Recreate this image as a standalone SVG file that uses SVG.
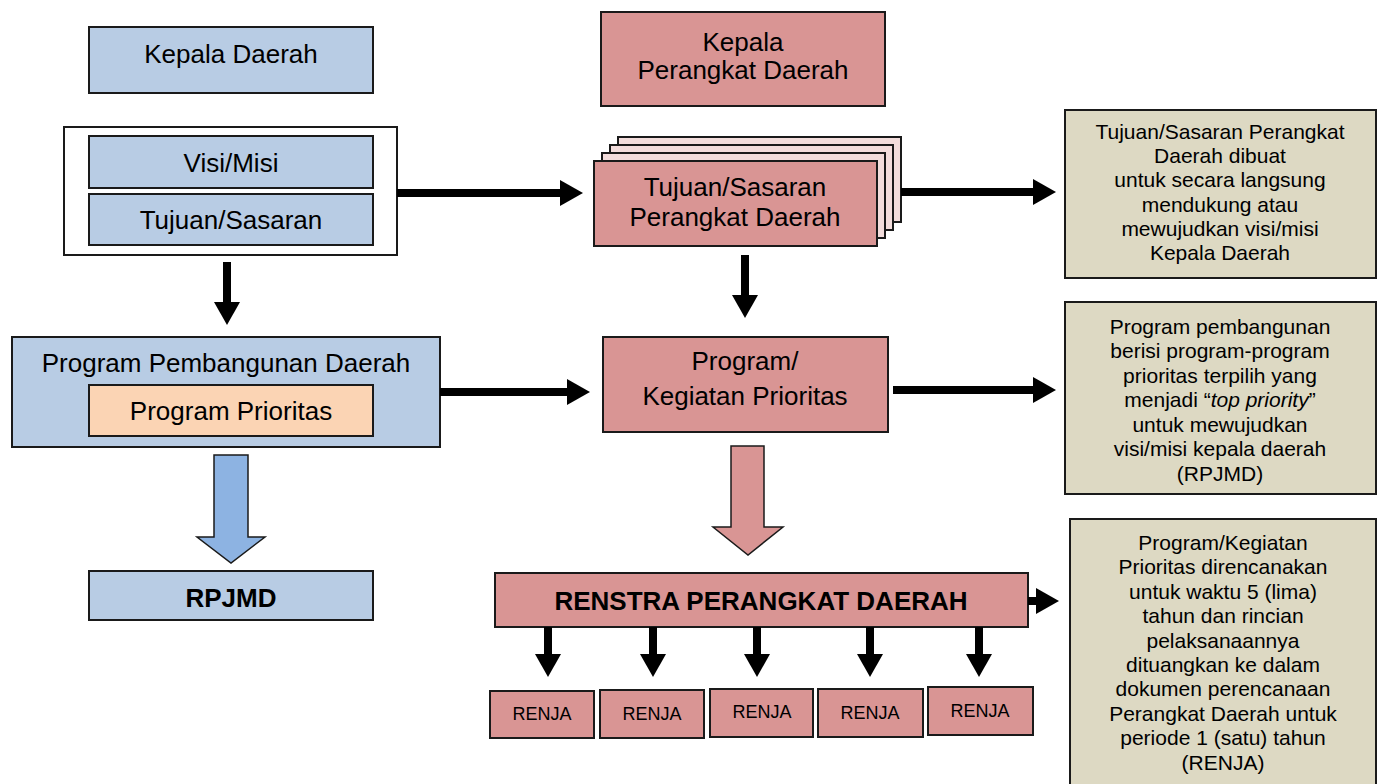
<svg xmlns="http://www.w3.org/2000/svg" width="1386" height="784" viewBox="0 0 1386 784">
<style>
text{font-family:"Liberation Sans",Arial,sans-serif;fill:#000;text-anchor:middle}
.t26{font-size:26px}
.b26{font-size:26px;font-weight:bold}
.t18{font-size:18px}
.t21{font-size:21px}
.blue{fill:#b8cce4;stroke:#1a1a1a;stroke-width:2}
.pink{fill:#d99594;stroke:#1a1a1a;stroke-width:2}
.lpink{fill:#f2dcdb;stroke:#1a1a1a;stroke-width:2}
.peach{fill:#fbd4b4;stroke:#1a1a1a;stroke-width:2}
.note{fill:#ddd9c3;stroke:#1a1a1a;stroke-width:2}
.white{fill:#fff;stroke:#1a1a1a;stroke-width:2}
.arr{stroke:#000;stroke-width:8;fill:none;marker-end:url(#ah)}
</style>
<defs>
<marker id="ah" markerUnits="userSpaceOnUse" markerWidth="24" markerHeight="26" viewBox="0 0 24 26" refX="0" refY="13" orient="auto">
<path d="M0,0 L23,13 L0,26 Z" fill="#000"/>
</marker>
</defs>
<rect width="1386" height="784" fill="#fff"/>

<g id="kepala-daerah">
<rect class="blue" x="89" y="27" width="284" height="66"/>
<text class="t26" x="231" y="63">Kepala Daerah</text>
</g>

<g id="kepala-perangkat-daerah">
<rect class="pink" x="601" y="12" width="284" height="94"/>
<text class="t26" x="743" y="51">Kepala</text>
<text class="t26" x="743" y="79">Perangkat Daerah</text>
</g>

<g id="visi-misi-group">
<rect class="white" x="64" y="127" width="333" height="128"/>
<g id="visi-misi">
<rect class="blue" x="89" y="136" width="284" height="52"/>
<text class="t26" x="231" y="172">Visi/Misi</text>
</g>
<g id="tujuan-sasaran">
<rect class="blue" x="89" y="194" width="284" height="51"/>
<text class="t26" x="231" y="229">Tujuan/Sasaran</text>
</g>
</g>

<g id="tujuan-sasaran-pd">
<rect class="lpink" x="618" y="137" width="283" height="85"/>
<rect class="lpink" x="610" y="145" width="283" height="85"/>
<rect class="lpink" x="602" y="153" width="283" height="85"/>
<rect class="pink" x="594" y="161" width="283" height="85"/>
<text class="t26" x="735" y="196">Tujuan/Sasaran</text>
<text class="t26" x="735" y="226">Perangkat Daerah</text>
</g>

<g id="note-1">
<rect class="note" x="1065" y="110" width="311" height="168"/>
<text class="t21" x="1220" y="139">Tujuan/Sasaran Perangkat</text>
<text class="t21" x="1220" y="163">Daerah dibuat</text>
<text class="t21" x="1220" y="187">untuk secara langsung</text>
<text class="t21" x="1220" y="212">mendukung atau</text>
<text class="t21" x="1220" y="236">mewujudkan visi/misi</text>
<text class="t21" x="1220" y="260">Kepala Daerah</text>
</g>

<g id="program-pembangunan-daerah">
<rect class="blue" x="12" y="337" width="428" height="110"/>
<text class="t26" x="226" y="372">Program Pembangunan Daerah</text>
<g id="program-prioritas">
<rect class="peach" x="89" y="385" width="284" height="51"/>
<text class="t26" x="231" y="420">Program Prioritas</text>
</g>
</g>

<g id="program-kegiatan-prioritas">
<rect class="pink" x="603" y="337" width="285" height="95"/>
<text class="t26" x="745" y="370">Program/</text>
<text class="t26" x="745" y="405">Kegiatan Prioritas</text>
</g>

<g id="note-2">
<rect class="note" x="1065" y="302" width="311" height="192"/>
<text class="t21" x="1220" y="334">Program pembangunan</text>
<text class="t21" x="1220" y="358">berisi program-program</text>
<text class="t21" x="1220" y="383">prioritas terpilih yang</text>
<text class="t21" x="1220" y="407">menjadi “<tspan font-style="italic">top priority</tspan>”</text>
<text class="t21" x="1220" y="432">untuk mewujudkan</text>
<text class="t21" x="1220" y="456">visi/misi kepala daerah</text>
<text class="t21" x="1220" y="481">(RPJMD)</text>
</g>

<g id="rpjmd">
<rect class="blue" x="89" y="571" width="284" height="49"/>
<text class="b26" x="231" y="607">RPJMD</text>
</g>

<g id="renstra">
<rect class="pink" x="495" y="573" width="533" height="54"/>
<text class="b26" x="761" y="610">RENSTRA PERANGKAT DAERAH</text>
</g>

<g id="renja-1"><rect class="pink" x="490" y="691" width="104" height="47"/><text class="t18" x="542" y="720">RENJA</text></g>
<g id="renja-2"><rect class="pink" x="600" y="690" width="104" height="48"/><text class="t18" x="652" y="720">RENJA</text></g>
<g id="renja-3"><rect class="pink" x="710" y="689" width="103" height="48"/><text class="t18" x="762" y="718">RENJA</text></g>
<g id="renja-4"><rect class="pink" x="818" y="689" width="105" height="48"/><text class="t18" x="870" y="719">RENJA</text></g>
<g id="renja-5"><rect class="pink" x="928" y="687" width="105" height="48"/><text class="t18" x="980" y="717">RENJA</text></g>

<g id="note-3">
<rect class="note" x="1070" y="519" width="306" height="275"/>
<text class="t21" x="1223" y="550">Program/Kegiatan</text>
<text class="t21" x="1223" y="574">Prioritas direncanakan</text>
<text class="t21" x="1223" y="599">untuk waktu 5 (lima)</text>
<text class="t21" x="1223" y="623">tahun dan rincian</text>
<text class="t21" x="1223" y="648">pelaksanaannya</text>
<text class="t21" x="1223" y="672">dituangkan ke dalam</text>
<text class="t21" x="1223" y="696">dokumen perencanaan</text>
<text class="t21" x="1223" y="721">Perangkat Daerah untuk</text>
<text class="t21" x="1223" y="745">periode 1 (satu) tahun</text>
<text class="t21" x="1223" y="770">(RENJA)</text>
</g>

<g id="connectors">
<line class="arr" x1="397" y1="193" x2="560" y2="193"/>
<line class="arr" x1="901" y1="192" x2="1033" y2="192"/>
<line class="arr" x1="227" y1="262" x2="227" y2="302"/>
<line class="arr" x1="745" y1="255" x2="745" y2="295"/>
<line class="arr" x1="440" y1="392" x2="567" y2="392"/>
<line class="arr" x1="893" y1="390" x2="1033" y2="390"/>
<line class="arr" x1="1028" y1="601" x2="1036" y2="601"/>
<line class="arr" x1="548" y1="627" x2="548" y2="654"/>
<line class="arr" x1="653" y1="627" x2="653" y2="654"/>
<line class="arr" x1="757" y1="627" x2="757" y2="654"/>
<line class="arr" x1="870" y1="627" x2="870" y2="654"/>
<line class="arr" x1="979" y1="627" x2="979" y2="654"/>
<path d="M214,455 L248,455 L248,537 L265,537 L231,563 L197,537 L214,537 Z" fill="#8db3e2" stroke="#1a1a1a" stroke-width="1.5"/>
<path d="M731,446 L764,446 L764,527 L783,527 L748,555 L713,527 L731,527 Z" fill="#d99594" stroke="#1a1a1a" stroke-width="1.5"/>
</g>
</svg>
